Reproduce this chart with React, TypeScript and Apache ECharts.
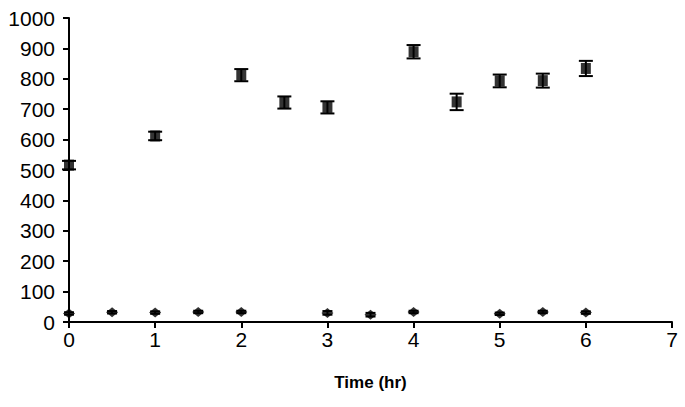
import React, { useEffect, useRef } from "react";
import * as echarts from "echarts";

const xTicks = [0, 1, 2, 3, 4, 5, 6, 7];
const yTicks = [0, 100, 200, 300, 400, 500, 600, 700, 800, 900, 1000];

const squareX = [0, 1, 2, 2.5, 3, 4, 4.5, 5, 5.5, 6];
const squareY = [516, 612, 812, 722, 706, 889, 724, 793, 794, 834];
const squareErr = [14, 14, 20, 20, 20, 22, 27, 21, 23, 25];

const diamondX = [0, 0.5, 1, 1.5, 2, 3, 3.5, 4, 5, 5.5, 6];
const diamondY = [28, 32, 31, 33, 33, 30, 24, 33, 27, 33, 31];
const diamondErr = [4, 4, 4, 4, 4, 6, 6, 4, 4, 4, 4];

const FONT = "'Liberation Sans', Arial, sans-serif";

function errorSeries(xs: number[], ys: number[], es: number[], capHalf: number) {
  return {
    type: "custom",
    silent: true,
    z: 3,
    data: xs.map((x, i) => [x, ys[i] - es[i], ys[i] + es[i]]),
    renderItem: (params: any, api: any) => {
      const x = api.value(0);
      const lo = api.coord([x, api.value(1)]);
      const hi = api.coord([x, api.value(2)]);
      const style = { stroke: "#000", lineWidth: 2 };
      return {
        type: "group",
        children: [
          { type: "line", shape: { x1: lo[0], y1: lo[1], x2: hi[0], y2: hi[1] }, style },
          { type: "line", shape: { x1: lo[0] - capHalf, y1: lo[1], x2: lo[0] + capHalf, y2: lo[1] }, style },
          { type: "line", shape: { x1: hi[0] - capHalf, y1: hi[1], x2: hi[0] + capHalf, y2: hi[1] }, style },
        ],
      };
    },
  };
}

export default function App() {
  const ref = useRef<HTMLDivElement>(null);
  useEffect(() => {
    if (!ref.current) return;
    const chart = echarts.init(ref.current, null, { renderer: "svg" });
    chart.setOption({
      animation: false,
      backgroundColor: "#fff",
      grid: { left: 69, right: 13, top: 18, bottom: 85, containLabel: false },
      xAxis: {
        type: "value",
        min: xTicks[0],
        max: xTicks[xTicks.length - 1],
        interval: 1,
        name: "Time (hr)",
        nameLocation: "middle",
        nameGap: 52,
        nameTextStyle: { fontFamily: FONT, fontSize: 17, fontWeight: "bold", color: "#000" },
        axisLine: { show: true, onZero: false, lineStyle: { color: "#000", width: 2 } },
        axisTick: { show: true, inside: false, length: 6, lineStyle: { color: "#000", width: 2 } },
        axisLabel: { fontFamily: FONT, fontSize: 21, color: "#000", margin: 7, formatter: (v: number) => String(v) },
        splitLine: { show: false },
      },
      yAxis: {
        type: "value",
        min: yTicks[0],
        max: yTicks[yTicks.length - 1],
        interval: 100,
        axisLine: { show: true, lineStyle: { color: "#000", width: 2 } },
        axisTick: { show: true, inside: false, length: 6, lineStyle: { color: "#000", width: 2 } },
        axisLabel: { fontFamily: FONT, fontSize: 21, color: "#000", margin: 14, formatter: (v: number) => String(v) },
        splitLine: { show: false },
      },
      series: [
        errorSeries(squareX, squareY, squareErr, 7),
        errorSeries(diamondX, diamondY, diamondErr, 5),
        {
          type: "scatter",
          z: 4,
          symbol: "rect",
          symbolSize: [10, 11],
          itemStyle: { color: "#000" },
          data: squareX.map((x, i) => [x, squareY[i]]),
        },
        {
          type: "scatter",
          z: 4,
          symbol: "diamond",
          symbolSize: [12, 10],
          itemStyle: { color: "#000" },
          data: diamondX.map((x, i) => [x, diamondY[i]]),
        },
      ],
    });
    return () => chart.dispose();
  }, []);
  return <div ref={ref} style={{ width: 685, height: 407, position: "absolute", left: 0, top: 0 }} />;
}
